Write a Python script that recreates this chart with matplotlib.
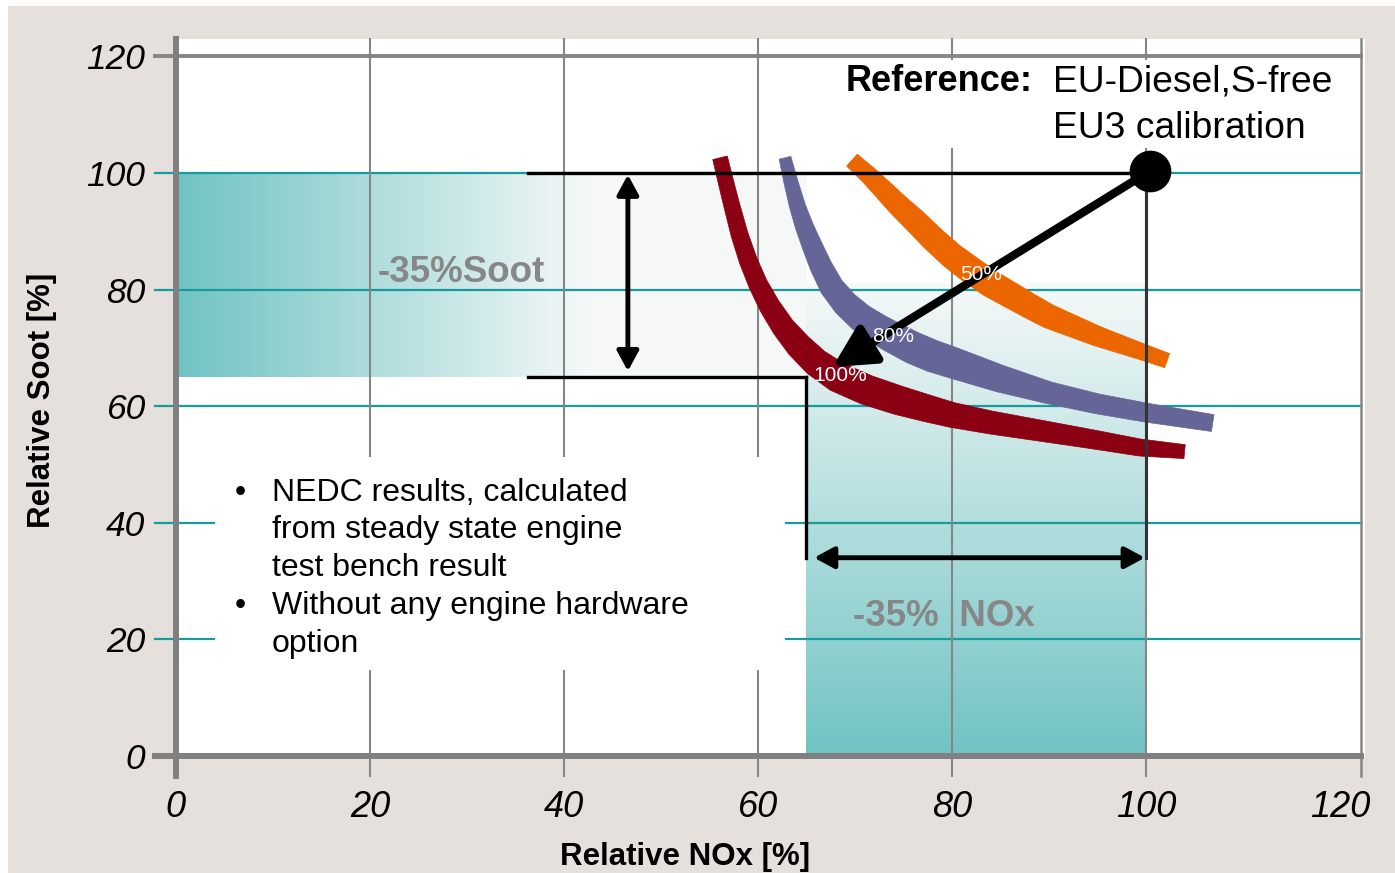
import numpy as np
import matplotlib.pyplot as plt
from matplotlib.patches import Rectangle, FancyArrowPatch, Polygon

plt.rcParams['font.family'] = ['Liberation Sans', 'DejaVu Sans']

# tick values
x_ticks = [0, 20, 40, 60, 80, 100, 120]
y_ticks = [0, 20, 40, 60, 80, 100, 120]

# trade-off bands (centre lines): relative NOx [%], relative soot [%]
nox_100 = [56.1, 56.7, 57.3, 58.1, 59.0, 60.0, 61.2, 62.6, 64.2, 66.0, 68.2, 71.2, 74.5, 77.5,
           80.0, 84.0, 89.1, 94.2, 99.4, 104.0]
soot_100 = [102.6, 98.5, 94.5, 89.5, 85.0, 81.0, 77.2, 73.6, 70.4, 67.5, 65.0, 62.8, 61.0, 59.6,
            58.5, 57.2, 55.8, 54.4, 52.9, 52.2]
nox_80 = [62.8, 63.4, 64.1, 64.8, 65.6, 66.5, 67.6, 69.0, 70.6, 72.3, 73.9, 76.0, 78.0, 80.0,
          85.0, 90.0, 95.0, 100.0, 106.9]
soot_80 = [102.6, 98.5, 94.2, 90.8, 87.5, 84.0, 80.5, 77.6, 75.2, 73.3, 71.8, 70.0, 68.6, 67.5,
           64.7, 62.3, 60.4, 58.9, 57.1]
nox_50 = [69.7, 71.5, 73.0, 74.4, 76.2, 78.0, 80.0, 82.0, 84.0, 86.0, 88.0, 90.0, 95.0, 100.0, 102.2]
soot_50 = [102.2, 99.5, 97.0, 94.6, 91.8, 88.8, 85.8, 83.3, 81.0, 79.1, 77.2, 75.4, 72.0, 69.1, 67.8]

band_labels = ['100%', '80%', '50%']
band_label_pos = [(68.5, 65.2), (73.9, 72.0), (83.0, 82.5)]

# reference point and the -35 % targets
ref_nox, ref_soot = 100.4, 100.3
target_nox, target_soot = 65, 65
arrow_tip = (67.7, 66.7)

bullets = ['NEDC results, calculated', 'from steady state engine', 'test bench result',
           'Without any engine hardware', 'option']
bullet_marks = [True, False, False, True, False]

# band thickness along each band, in pixels (styling)
w_100 = [15, 15.5, 16, 17, 18, 19, 21, 23, 26, 28, 30, 30, 29, 27, 25, 23, 21, 19, 17, 14]
w_80 = [12, 14, 16, 18, 20, 22, 24, 26, 28, 30, 31, 32, 32, 31, 27, 22, 20, 19, 17]
w_50 = [16, 18, 20, 22, 24, 25, 26, 27, 27, 26, 25, 24, 20, 16, 15]

teal = np.array([0.44, 0.765, 0.765])
light = np.array([0.965, 0.975, 0.975])
grid_teal = '#169c9c'
grey = '#868686'

fig = plt.figure(figsize=(13.95, 8.73), dpi=100, facecolor='white')
fig.patches.append(Rectangle((8 / 1395, 0), 1, 1 - 6 / 873, transform=fig.transFigure,
                             facecolor='#e5e0dc', edgecolor='none', zorder=-10))
ax = fig.add_axes([173 / 1395, 0.1314, 1192 / 1395, 0.8241])
ax.set_xlim(-0.3, 122.6)
ax.set_ylim(-0.4, 123)
ax.set_facecolor('white')
for s in ax.spines.values():
    s.set_visible(False)


def band(xs, ys, widths, color):
    # thick band with a varying width, built in pixel space
    pts = ax.transData.transform(np.column_stack([xs, ys]))
    tang = np.gradient(pts, axis=0)
    tang /= np.hypot(tang[:, 0], tang[:, 1])[:, None]
    nrm = np.column_stack([-tang[:, 1], tang[:, 0]])
    half = np.asarray(widths, float)[:, None] / 2
    edge = np.vstack([pts + nrm * half, (pts - nrm * half)[::-1]])
    poly = ax.transData.inverted().transform(edge)
    ax.add_patch(Polygon(poly, closed=True, facecolor=color, edgecolor=color, lw=0.5, zorder=3))


# gradient boxes
t = np.clip(np.linspace(0, 65, 300) / 43, 0, 1)
img = teal[None, :] * (1 - t[:, None]) + light[None, :] * t[:, None]
ax.imshow(img[None, :, :], extent=(0, 65, 65, 100), aspect='auto', origin='lower',
          interpolation='bilinear', zorder=0.5)
t = np.linspace(0, 1, 300)
img = teal[None, :] * (1 - t[:, None]) + light[None, :] * t[:, None]
ax.imshow(img[:, None, :], extent=(65, 100, 0, 81), aspect='auto', origin='lower',
          interpolation='bilinear', zorder=0.5)
ax.set_xlim(-0.3, 122.6)
ax.set_ylim(-0.4, 123)

# grid lines, spines and ticks drawn by hand
for y in y_ticks[1:-1]:
    ax.plot([-2.2, 122.2], [y, y], color=grid_teal, lw=1.6, clip_on=False, zorder=1)
for x in x_ticks[1:-1]:
    ax.plot([x, x], [-3.4, 123], color=grey, lw=1.5, clip_on=False, zorder=1)
ax.plot([122.2, 122.2], [-3.4, 123], color=grey, lw=1.8, clip_on=False, zorder=1)
ax.plot([-2.2, 122.2], [120, 120], color=grey, lw=2.8, clip_on=False, zorder=4)
ax.plot([0, 0], [-3.4, 123], color='#808080', lw=4.3, clip_on=False, zorder=4)
ax.plot([-2.2, 122.2], [0, 0], color='#808080', lw=4.3, clip_on=False, zorder=4)

# white boxes behind the texts
ax.add_patch(Rectangle((4, 14.8), 58.8, 36.5, facecolor='white', edgecolor='none', zorder=2))
ax.add_patch(Rectangle((63, 104.3), 58, 15.1, facecolor='white', edgecolor='none', zorder=2))

# bands
band(nox_100, soot_100, w_100, '#8c0014')
band(nox_80, soot_80, w_80, '#666598')
band(nox_50, soot_50, w_50, '#ec6600')
for lab, (x, y) in zip(band_labels, band_label_pos):
    ax.text(x, y, lab, color='white', fontsize=15, ha='center', va='center', zorder=7)

# brackets
ax.plot([36.3, ref_nox], [ref_soot - 0.3, ref_soot - 0.3], color='black', lw=2.4, zorder=4)
ax.plot([36.3, target_nox], [target_soot, target_soot], color='black', lw=2.4, zorder=4)
ax.plot([target_nox, target_nox], [target_soot, 34], color='black', lw=2.4, zorder=4)
ax.plot([100, 100], [ref_soot, 34], color='#333333', lw=2.2, zorder=4)

ax.add_patch(FancyArrowPatch((46.6, 99.7), (46.6, 66.0), arrowstyle='<|-|>,head_length=12,head_width=6.5',
                             mutation_scale=1, lw=3.5, color='black', shrinkA=0, shrinkB=0, zorder=5))
ax.add_patch(FancyArrowPatch((65.8, 34), (99.9, 34), arrowstyle='<|-|>,head_length=12,head_width=6.5',
                             mutation_scale=1, lw=3.5, color='black', shrinkA=0, shrinkB=0, zorder=5))
ax.add_patch(FancyArrowPatch((ref_nox, ref_soot), arrow_tip, arrowstyle='-|>,head_length=25,head_width=13',
                             mutation_scale=1, lw=6, color='black', shrinkA=0, shrinkB=0, zorder=6))
ax.plot(ref_nox, ref_soot, 'o', ms=29, color='black', zorder=6)

# texts
ax.text(29.4, 83.0, '-35%Soot', color='#878787', fontsize=26.5, fontweight='bold',
        ha='center', va='center', zorder=5)
ax.text(79.2, 24.0, '-35%  NOx', color='#878787', fontsize=26.5, fontweight='bold',
        ha='center', va='center', zorder=5)
ax.text(69.1, 115.6, 'Reference:', fontsize=26, fontweight='bold', va='center', zorder=5)
ax.text(90.4, 115.6, 'EU-Diesel,S-free', fontsize=26.8, va='center', zorder=5)
ax.text(90.4, 107.7, 'EU3 calibration', fontsize=26.8, va='center', zorder=5)

row_y = [45.1, 38.8, 32.3, 25.8, 19.2]
for txt, mark, y in zip(bullets, bullet_marks, row_y):
    if mark:
        ax.text(6.6, y, '\u2022', fontsize=23, ha='center', va='center', zorder=5)
    ax.text(9.9, y, txt, fontsize=23, va='center', zorder=5)

ax.set_xticks(x_ticks)
ax.set_xticklabels([str(v) for v in x_ticks], fontsize=26, fontstyle='italic')
ax.set_yticks(y_ticks)
ax.set_yticklabels([str(v) for v in y_ticks], fontsize=25.5, fontstyle='italic')
ax.tick_params(axis='x', length=0, pad=23)
ax.tick_params(axis='y', length=0, pad=20)

fig.text(685 / 1395, 1 - 857 / 873, 'Relative NOx [%]', fontsize=22.5, fontweight='bold',
         ha='center', va='center')
fig.text(42 / 1395, 1 - 400 / 873, 'Relative Soot [%]', fontsize=22.5, fontweight='bold',
         ha='center', va='center', rotation=90)

fig.savefig('out.png', dpi=100, facecolor=fig.get_facecolor())
